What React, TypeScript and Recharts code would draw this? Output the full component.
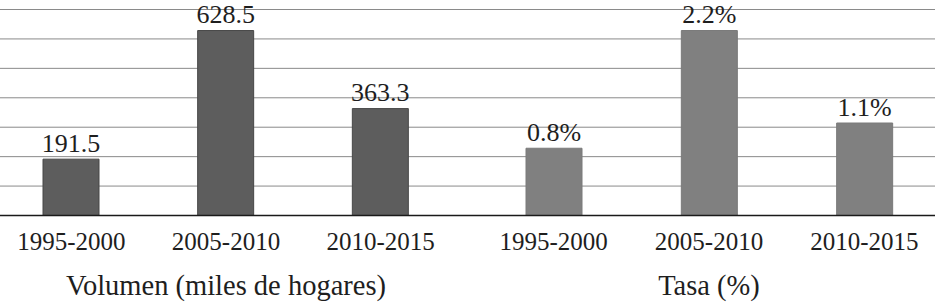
import React from "react";
import { BarChart, Bar, XAxis, YAxis, CartesianGrid, LabelList } from "recharts";

const categories = ["1995-2000", "2005-2010", "2010-2015"];
const volumenValues = [191.5, 628.5, 363.3];
const tasaValues = [0.8, 2.2, 1.1];
const volumenLabels = ["191.5", "628.5", "363.3"];
const tasaLabels = ["0.8%", "2.2%", "1.1%"];
const volumenTicks = [0, 100, 200, 300, 400, 500, 600, 700];
const tasaTicks = [0, 0.35, 0.7, 1.05, 1.4, 1.75, 2.1, 2.45];
const volumenTitle = "Volumen (miles de hogares)";
const tasaTitle = "Tasa (%)";

const volumenData = categories.map((c, i) => ({ name: c, value: volumenValues[i], label: volumenLabels[i] }));
const tasaData = categories.map((c, i) => ({ name: c, value: tasaValues[i], label: tasaLabels[i] }));

const FONT = "Liberation Serif, DejaVu Serif, serif";
const TEXT = "#1e1e1e";
const H = 305;
const MARGIN = { top: 9.5, right: 0, bottom: 0, left: 0 };
const XAXIS_H = 89.5;

function Panel(props: {
  data: any[];
  ticks: number[];
  fill: string;
  stroke: string;
  title: string;
  width: number;
  left: number;
  padding: { left: number; right: number };
  titleDx: number;
}) {
  const { data, ticks, fill, stroke, title, width, left, padding, titleDx } = props;
  return (
    <div style={{ position: "absolute", left, top: 0 }}>
      <BarChart width={width} height={H} data={data} margin={MARGIN} barSize={56} style={{ fontFamily: FONT }}>
        <CartesianGrid horizontal vertical={false} stroke="#8a8a8a" strokeWidth={1} />
        <YAxis hide domain={[ticks[0], ticks[ticks.length - 1]]} ticks={ticks} />
        <XAxis
          dataKey="name"
          height={XAXIS_H}
          padding={padding}
          tickSize={0}
          tickMargin={17}
          axisLine={{ stroke: "#1a1a1a", strokeWidth: 1.3 }}
          tickLine={false}
          tick={{ fill: TEXT, fontSize: 25, fontFamily: FONT }}
          interval={0}
          label={{
            value: title,
            position: "insideBottom",
            offset: 10,
            dx: titleDx,
            fill: TEXT,
            fontSize: 28.5,
            fontFamily: FONT,
          }}
        />
        <Bar dataKey="value" fill={fill} stroke={stroke} strokeWidth={1} isAnimationActive={false}>
          <LabelList dataKey="label" position="top" offset={7.5} fill={TEXT} fontSize={26} fontFamily={FONT} />
        </Bar>
      </BarChart>
    </div>
  );
}

export default function App() {
  return (
    <div
      style={{
        position: "absolute",
        left: 0,
        top: 0,
        width: 935,
        height: H,
        overflow: "hidden",
        background: "#ffffff",
        fontFamily: FONT,
      }}
    >
      <Panel
        data={volumenData}
        ticks={volumenTicks}
        fill="#5d5d5d"
        stroke="#474747"
        title={volumenTitle}
        width={473}
        left={-6}
        padding={{ left: 0, right: 9 }}
        titleDx={-4.5}
      />
      <Panel
        data={tasaData}
        ticks={tasaTicks}
        fill="#808080"
        stroke="#7a7a7a"
        title={tasaTitle}
        width={475}
        left={467}
        padding={{ left: 9, right: 0 }}
        titleDx={4.5}
      />
    </div>
  );
}
